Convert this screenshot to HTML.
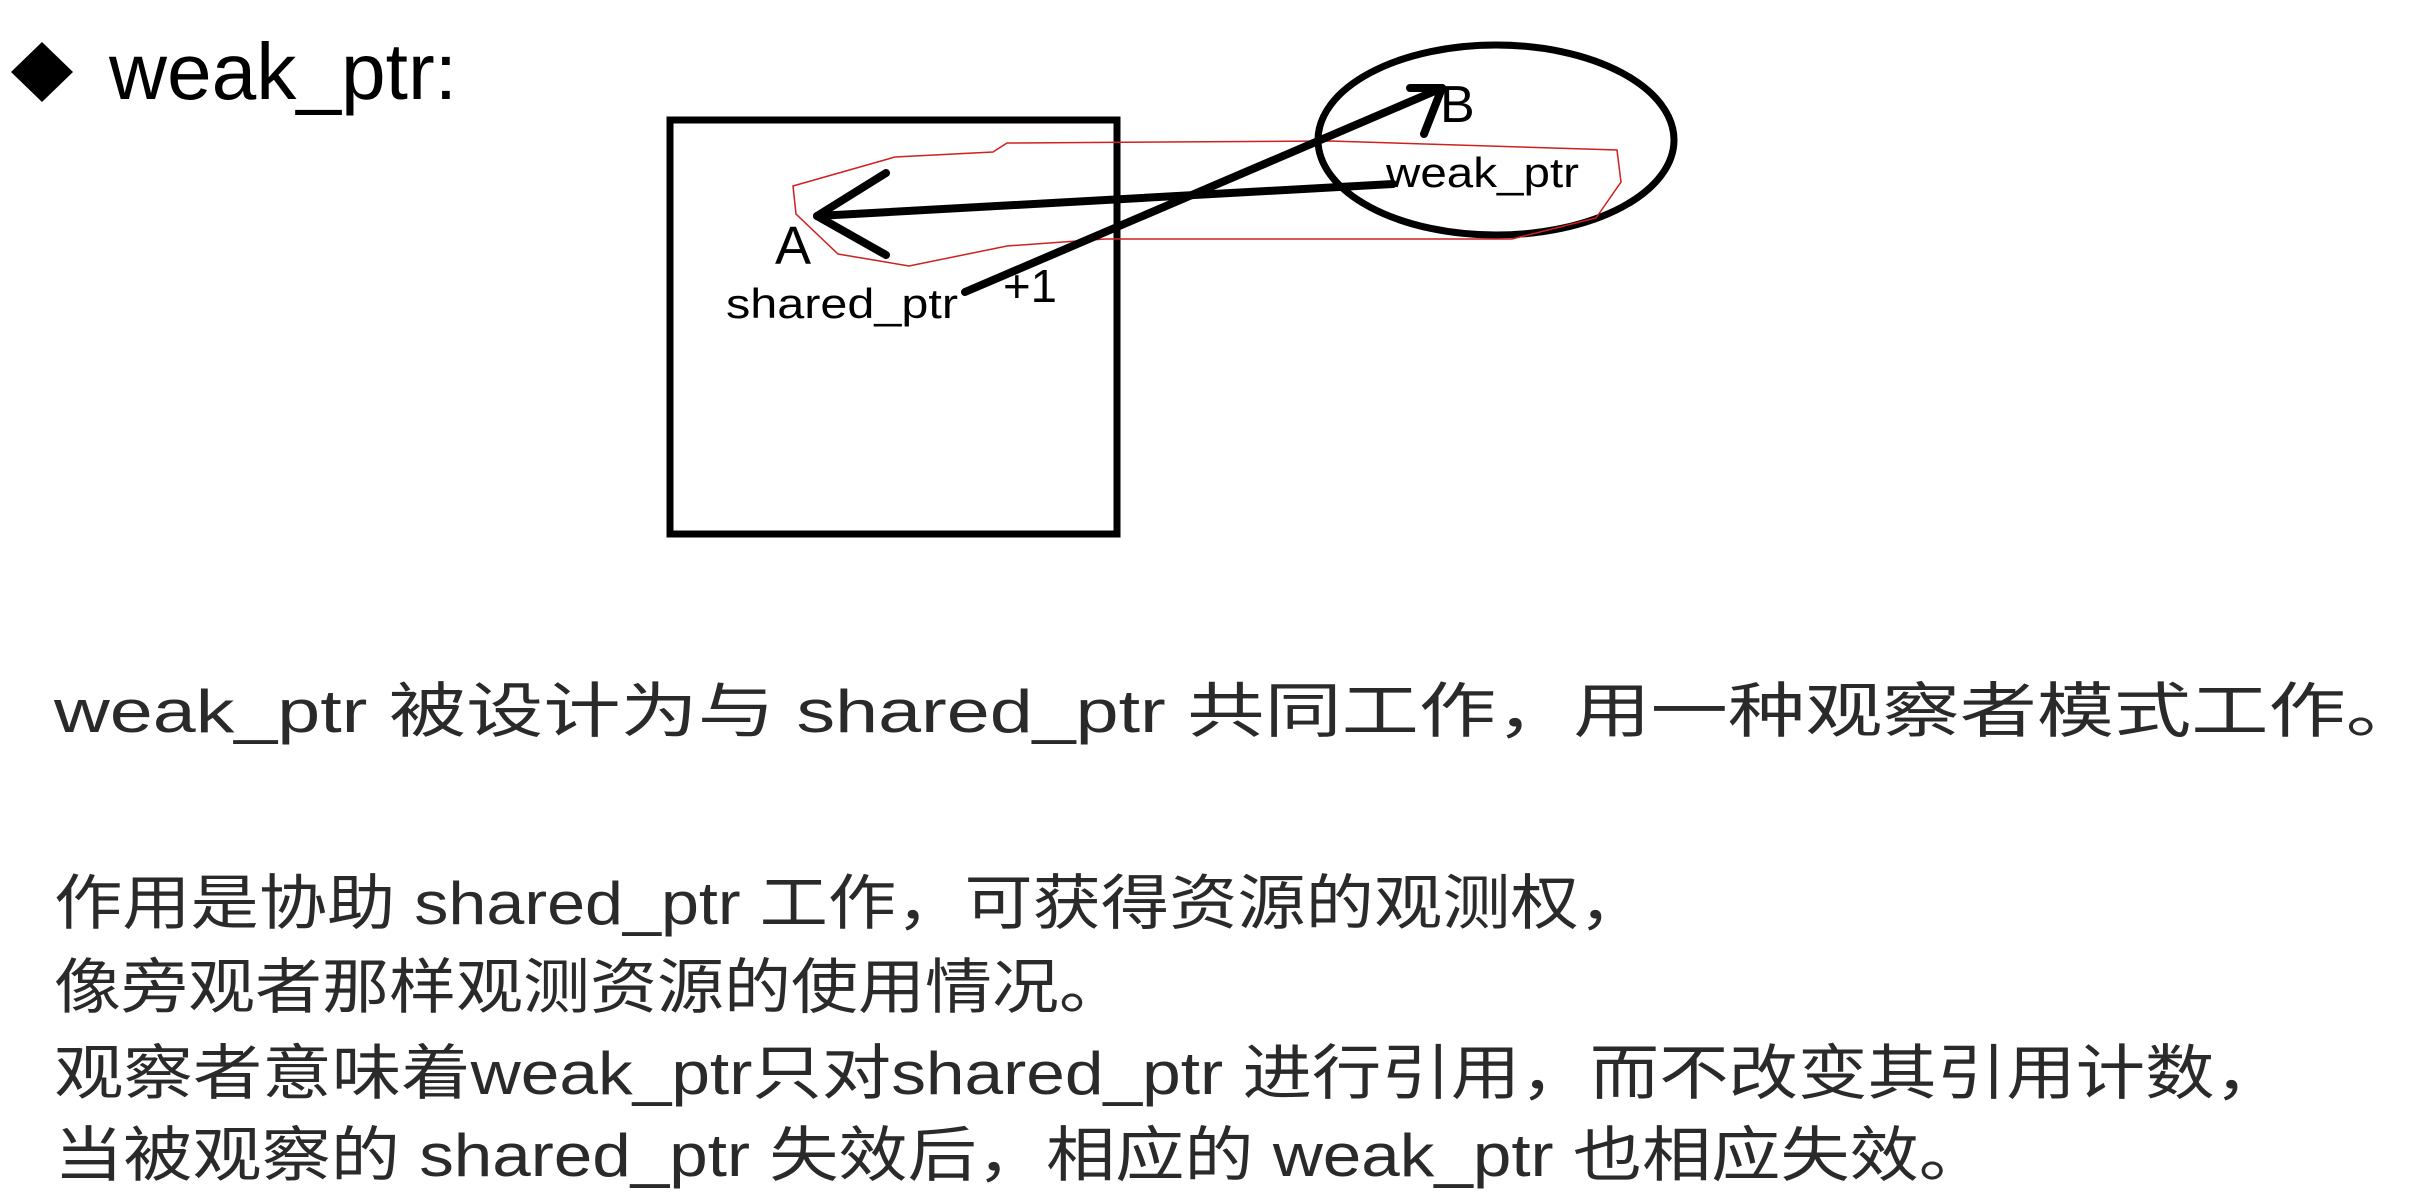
<!DOCTYPE html>
<html><head><meta charset="utf-8"><style>
html,body{margin:0;padding:0;background:#fff;}
svg{display:block;}
</style></head><body>
<svg width="2436" height="1203" viewBox="0 0 2436 1203" xmlns="http://www.w3.org/2000/svg">
<rect width="2436" height="1203" fill="#fff"/>
<polygon points="42,42 73,72 42,102 11,72" fill="#000"/>
<text x="109" y="99" font-family="Liberation Sans, sans-serif" font-size="80" fill="#000" textLength="348" lengthAdjust="spacingAndGlyphs">weak_ptr:</text>

<rect x="670" y="120" width="447" height="414" fill="none" stroke="#000" stroke-width="7"/>
<ellipse cx="1496" cy="140" rx="178" ry="95" fill="none" stroke="#000" stroke-width="7"/>
<polygon points="793,186 895,157 993,152 1007,143 1330,141 1617,150 1621,182 1596,218 1512,239 1358,239 1105,239 1007,246 909,266 838,254 796,214" fill="none" stroke="#d02020" stroke-width="1.5"/>

<g stroke="#000" stroke-width="8" stroke-linecap="round" fill="none">
<line x1="1393" y1="184" x2="817" y2="216"/>
<line x1="817" y1="216" x2="886" y2="173"/>
<line x1="817" y1="216" x2="886" y2="255"/>
<line x1="965" y1="292" x2="1442" y2="88"/>
<line x1="1442" y1="88" x2="1410" y2="88"/>
<line x1="1442" y1="88" x2="1424" y2="134"/>
</g>

<g font-family="Liberation Sans, sans-serif" fill="#000">
<text x="775" y="264" font-size="54">A</text>
<text x="1440" y="122" font-size="52">B</text>
<text x="726" y="318" font-size="42" textLength="232" lengthAdjust="spacingAndGlyphs">shared_ptr</text>
<text x="1003" y="302" font-size="46" textLength="54" lengthAdjust="spacingAndGlyphs">+1</text>
<text x="1386" y="187" font-size="42" textLength="193" lengthAdjust="spacingAndGlyphs">weak_ptr</text>
</g>

<g font-family="Liberation Sans, Noto Sans CJK SC, sans-serif" font-size="60" fill="#2a2a2a">
<text x="54" y="732" textLength="2369" lengthAdjust="spacingAndGlyphs">weak_ptr 被设计为与 shared_ptr 共同工作，用一种观察者模式工作。</text>
<text x="54" y="924" textLength="1593" lengthAdjust="spacingAndGlyphs">作用是协助 shared_ptr 工作，可获得资源的观测权，</text>
<text x="54" y="1008" textLength="1072" lengthAdjust="spacingAndGlyphs">像旁观者那样观测资源的使用情况。</text>
<text x="54" y="1094" textLength="2230" lengthAdjust="spacingAndGlyphs">观察者意味着weak_ptr只对shared_ptr 进行引用，而不改变其引用计数，</text>
<text x="54" y="1176" textLength="1934" lengthAdjust="spacingAndGlyphs">当被观察的 shared_ptr 失效后，相应的 weak_ptr 也相应失效。</text>
</g>
</svg>
</body></html>
